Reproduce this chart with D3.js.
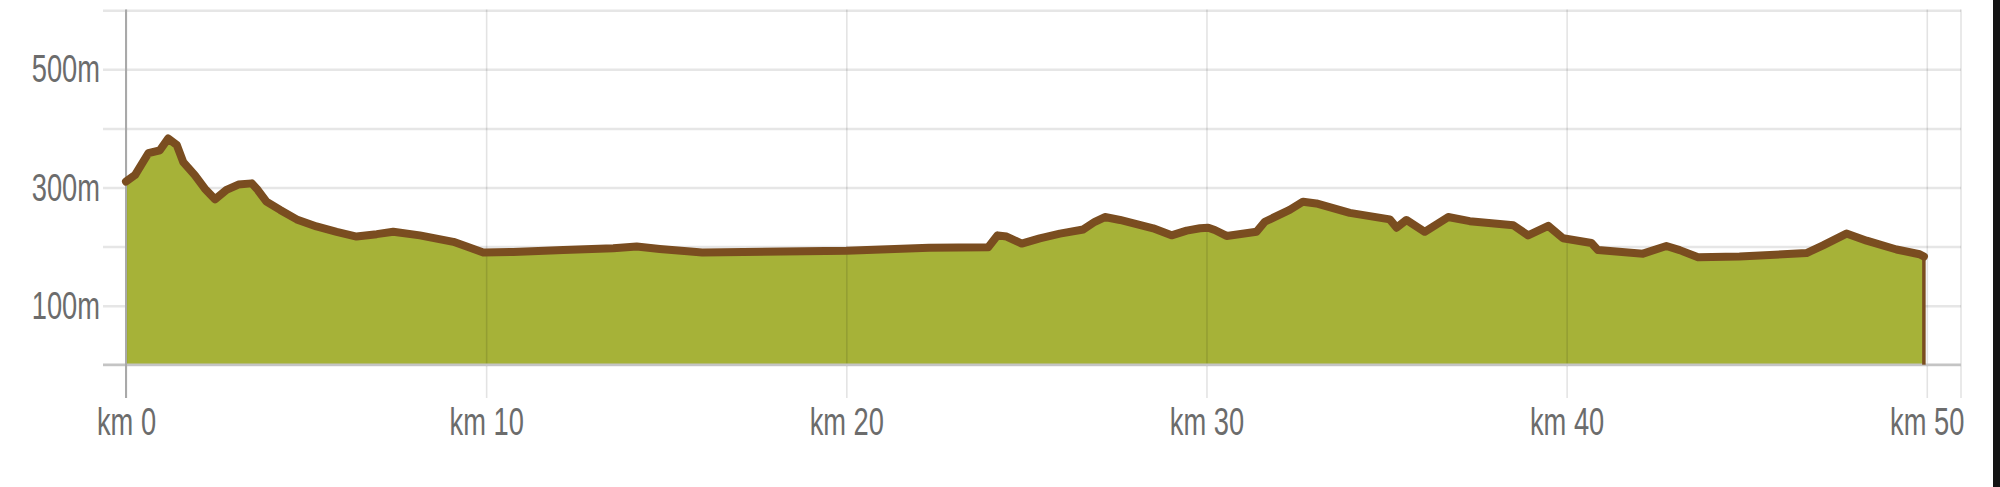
<!DOCTYPE html>
<html>
<head>
<meta charset="utf-8">
<script src="https://cdn.jsdelivr.net/npm/d3@7"></script>
<style>
  html, body { margin: 0; padding: 0; background: #fff; overflow: hidden; }
  svg { display: block; }
</style>
</head>
<body>
<svg id="chart" width="2000" height="487"></svg>
<script>
// ---- data (distance in km, elevation in m) ----
const distanceKm = [
  0, 0.25, 0.62, 0.94, 1.17, 1.41, 1.59, 1.91, 2.19, 2.47, 2.79, 3.12, 3.49, 3.63, 3.9,
  4.28, 4.74, 5.29, 5.85, 6.4, 6.96, 7.42, 8.16, 9.09, 9.46, 9.92, 10.75, 12.14, 13.53,
  14.18, 14.82, 16.0, 20.0, 22.3, 23.94, 24.2, 24.45, 24.87, 25.37, 25.93, 26.58, 26.9,
  27.18, 27.6, 28.52, 29.03, 29.45, 29.82, 30.05, 30.23, 30.56, 31.39, 31.62, 32.31,
  32.68, 33.05, 33.98, 35.09, 35.28, 35.55, 36.06, 36.71, 37.31, 38.52, 38.93, 39.49,
  39.9, 40.69, 40.87, 42.12, 42.77, 43.14, 43.65, 44.8, 46.66, 47.12, 47.77, 48.33,
  49.16, 49.8, 49.92
];
const elevationM = [
  310, 321, 358, 363, 383, 372, 343, 321, 298, 280, 296, 305, 307, 298, 276,
  262, 246, 234, 225, 217, 221, 225, 219, 208, 200, 190, 191, 194, 197,
  200, 196, 190, 193, 198, 199, 219, 217, 205, 214, 222, 229, 242,
  250, 245, 231, 219, 227, 231, 232, 228, 218, 225, 242, 262,
  276, 273, 257, 246, 232, 245, 225, 250, 243, 236, 219, 235,
  214, 206, 194, 188, 201, 194, 182, 183, 189, 202, 222, 210,
  195, 187, 183
];
const yTickValues = [0, 100, 200, 300, 400, 500, 600];
const yTickLabels = ["", "100m", "", "300m", "", "500m", ""];
const xTickValues = [0, 10, 20, 30, 40, 50];
const xTickLabels = ["km 0", "km 10", "km 20", "km 30", "km 40", "km 50"];
const xDomain = [0, 50.95];
const yDomain = [0, 600];

const points = distanceKm.map((k, i) => ({ km: k, m: elevationM[i] }));

// ---- layout ----
const svg = d3.select("#chart");
const x = d3.scaleLinear().domain(xDomain).range([126, 1961]);
const y = d3.scaleLinear().domain(yDomain).range([364.7, 10.3]);
const gridLeft = 103, gridTop = 9.5, tickBottom = 398;
const fontFamily = "'Liberation Sans', Arial, sans-serif";
const textColor = "#6c6c6c";

// horizontal grid + y labels
const yAxis = d3.axisLeft(y)
  .tickValues(yTickValues)
  .tickSize(-(x.range()[1] - gridLeft))
  .tickPadding(3)
  .tickFormat((d, i) => yTickLabels[i]);
const gy = svg.append("g").attr("transform", `translate(${gridLeft},0)`).call(yAxis);
gy.select(".domain").remove();
gy.selectAll(".tick line").attr("stroke", "#e6e6e6").attr("stroke-width", 2.5);
gy.attr("font-family", fontFamily).attr("font-size", 39);
gy.selectAll(".tick text")
  .attr("x", 0).attr("dy", 0)
  .attr("fill", textColor)
  .attr("text-anchor", "end")
  .attr("transform", "translate(-3,12.5) scale(0.7,1)");

// area
const area = d3.area()
  .x(d => x(d.km))
  .y0(y(0))
  .y1(d => y(d.m));
svg.append("path").datum(points)
  .attr("d", area)
  .attr("fill", "#a6b238");

// vertical grid + x labels (drawn over the area, semi-transparent)
const xAxis = d3.axisBottom(x)
  .tickValues(xTickValues)
  .tickSize(-(tickBottom - gridTop))
  .tickPadding(0)
  .tickFormat((d, i) => xTickLabels[i]);
const gx = svg.append("g").attr("transform", `translate(0,${tickBottom})`).call(xAxis);
gx.select(".domain").remove();
gx.selectAll(".tick line").attr("stroke", "#000").attr("stroke-opacity", 0.11).attr("stroke-width", 1.6);
gx.attr("font-family", fontFamily).attr("font-size", 39);
gx.selectAll(".tick text")
  .attr("y", 0).attr("dy", 0)
  .attr("fill", textColor)
  .attr("text-anchor", "middle")
  .attr("transform", "translate(0,37) scale(0.7,1)");

// right border of plot
svg.append("line")
  .attr("x1", x.range()[1]).attr("x2", x.range()[1])
  .attr("y1", gridTop).attr("y2", tickBottom)
  .attr("stroke", "#000").attr("stroke-opacity", 0.11).attr("stroke-width", 1.6);

// baseline
svg.append("line")
  .attr("x1", gridLeft).attr("x2", x.range()[1])
  .attr("y1", y(0)).attr("y2", y(0))
  .attr("stroke", "#c4c4c4").attr("stroke-width", 2.5);

// y axis line at km 0
svg.append("line")
  .attr("x1", x(0)).attr("x2", x(0))
  .attr("y1", gridTop).attr("y2", tickBottom)
  .attr("stroke", "#a9a9a9").attr("stroke-width", 2);

// profile line
const line = d3.line().x(d => x(d.km)).y(d => y(d.m));
svg.append("path").datum(points)
  .attr("d", line)
  .attr("fill", "none")
  .attr("stroke", "#7a4d20")
  .attr("stroke-width", 8)
  .attr("stroke-linejoin", "round")
  .attr("stroke-linecap", "round");

// closing edge at the end of the profile
const last = points[points.length - 1];
svg.append("line")
  .attr("x1", x(last.km)).attr("x2", x(last.km))
  .attr("y1", y(last.m)).attr("y2", y(0))
  .attr("stroke", "#7a4d20").attr("stroke-width", 3.5);

// dark strip at the far right of the image
svg.append("rect")
  .attr("x", 1993).attr("y", 0).attr("width", 7).attr("height", 487)
  .attr("fill", "#141414");
</script>
</body>
</html>
